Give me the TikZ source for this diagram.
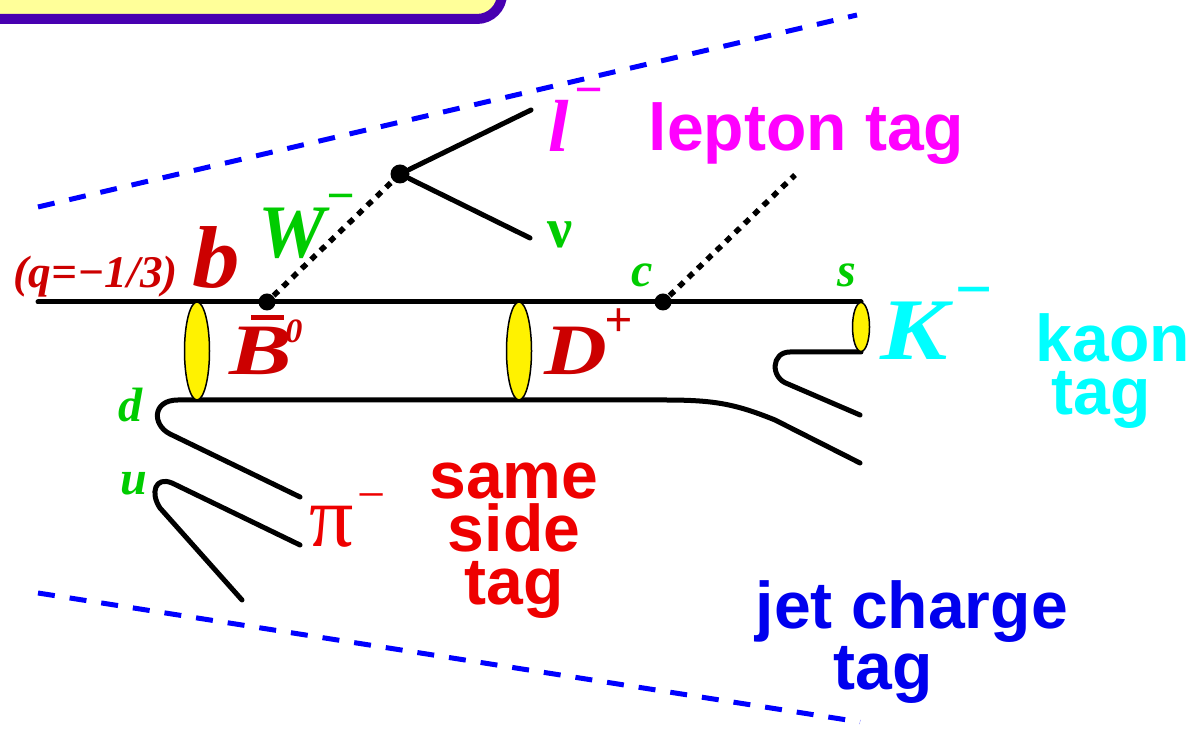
\documentclass[tikz,border=0pt]{standalone}
\usepackage{fontspec}
\setmainfont{Liberation Serif}
\setsansfont{Liberation Sans}
\usepackage{xcolor,graphicx}
\usetikzlibrary{shapes.geometric}

\definecolor{dkred}{RGB}{204,0,0}
\definecolor{brred}{RGB}{238,0,0}
\definecolor{qgreen}{RGB}{0,204,0}
\definecolor{lmag}{RGB}{255,0,255}
\definecolor{kcyan}{RGB}{0,255,255}
\definecolor{jblue}{RGB}{0,0,238}
\definecolor{dblue}{RGB}{0,0,255}
\definecolor{boxfill}{RGB}{255,255,153}
\definecolor{boxline}{RGB}{72,0,176}

\newcommand{\fsz}[2]{\fontsize{#1}{#2}\selectfont}
\newcommand{\sgn}[3]{\raisebox{#1}{\fsz{#2}{#2}#3}}
\newcommand{\wide}[2]{\scalebox{#1}[1]{#2}}

\begin{document}
\begin{tikzpicture}[x=0.1mm,y=-0.1mm,line join=round,
 qk/.style={line width=0.5mm,line cap=round},
 wb/.style={line width=0.55mm,dash pattern=on 0.65mm off 0.65mm},
 cone/.style={dblue,line width=0.5mm,dash pattern=on 1.7mm off 1.5mm},
 vtx/.style={circle,fill=black,inner sep=0pt,minimum size=1.7mm},
 blob/.style={ellipse,draw=black,line width=0.15mm,fill=yellow,inner sep=0pt,minimum width=2.5mm},
 lbl/.style={inner sep=0pt,anchor=base west,font=\bfseries\itshape},
 tg/.style={inner sep=0pt,anchor=north west,align=left,font=\sffamily\bfseries\fsz{18.8}{15.1}}]
\useasboundingbox (0,0) rectangle (1195,731);
% title box, cut by the frame
\draw[boxline,line width=1mm,fill=boxfill,rounded corners=2.5mm] (-60,-80) rectangle (502,19);
% jet cone
\coordinate (coneTL) at (38,207); \coordinate (coneTR) at (857,15);
\coordinate (coneBL) at (38,593); \coordinate (coneBR) at (860,722);
\draw[cone] (coneTL) -- (coneTR);
\draw[cone] (coneBL) -- (coneBR);
% quark lines
\coordinate (bIn) at (38,302); \coordinate (sTop) at (861,302);
\coordinate (sBot) at (861,352); \coordinate (sTail) at (860,415);
\coordinate (dEnd) at (300,497); \coordinate (jetEnd) at (860,463);
\coordinate (uEnd) at (300,545); \coordinate (uTail) at (242,600);
\coordinate (lEnd) at (531,110); \coordinate (nuEnd) at (530,238);
\coordinate (cEnd) at (795,175);
\draw[qk] (bIn) -- (sTop);
\draw[qk] (dEnd) -- (170,434) .. controls (152,425) and (152,400) .. (178,400) -- (663,400)
 .. controls (712,400) and (733,403) .. (775,420) -- (jetEnd);
\draw[qk] (uEnd) -- (172,483) .. controls (155,476) and (150,493) .. (160,508) -- (uTail);
\draw[qk] (sBot) -- (790,352) .. controls (771,352) and (770,378) .. (788,384) -- (sTail);
% mesons
\node[blob,minimum height=9.8mm] (mesB) at (197,351) {};
\node[blob,minimum height=9.8mm] (mesD) at (519,351) {};
\node[blob,minimum width=1.7mm,minimum height=4.9mm] (mesK) at (861,327) {};
% vertices
\node[vtx] (vB) at (267,302) {};
\node[vtx] (vC) at (663,302) {};
\node[vtx,minimum size=1.9mm] (vW) at (400,174) {};
\draw[wb] (vB) -- (vW);
\draw[wb] (vC) -- (cEnd);
\draw[qk] (vW) -- (lEnd);
\draw[qk] (vW) -- (nuEnd);
% particle labels
\node[lbl,dkred] (qlab) at (13,288) {\fsz{12.9}{15}(q=−1/3)};
\node[lbl,dkred] (blab) at (192,288) {\fsz{25}{30}\wide{1.08}{b}};
\node[lbl,qgreen] (Wlab) at (258,258) {\fsz{21.5}{26}W\sgn{4.5mm}{14.2}{−}};
\node[lbl,dkred] (Blab) at (229,375) {\fsz{20.6}{25}\rlap{\hspace{0.3em}\rule[0.76em]{0.45em}{0.07em}}\wide{1.3}{B}\kern-0.7mm\raisebox{3.2mm}{\fsz{9.7}{10}0}};
\node[lbl,dkred] (Dlab) at (544,375) {\fsz{20.6}{25}\wide{1.2}{D}\kern-0.3mm\sgn{3.8mm}{14}{+}};
\node[lbl,kcyan] (Klab) at (880,360) {\fsz{25}{30}\wide{1.15}{K}\kern0.5mm\sgn{4.85mm}{18.8}{−}};
\node[lbl,lmag] (llab) at (548,152) {\fsz{21}{25}l\kern0.4mm\sgn{4.5mm}{14.2}{−}};
\node[lbl,brred,font=\mdseries\upshape] (pilab) at (309,547) {\fsz{25}{30}π\kern0.3mm\sgn{3.5mm}{14.2}{−}};
\node[lbl,qgreen,font=\bfseries\upshape] (nulab) at (547,248) {\fsz{16}{18}ν};
\node[lbl,qgreen] (clab) at (631,287) {\fsz{13.7}{16}c};
\node[lbl,qgreen] (slab) at (837,287) {\fsz{13.7}{16}s};
\node[lbl,qgreen] (dlab) at (118,422) {\fsz{13.7}{16}d};
\node[lbl,qgreen] (ulab) at (120,495) {\fsz{13.7}{16}u};
% tagging methods
\node[tg,lmag] (lepTag) at (648,102) {lepton tag};
\node[tg,kcyan] (kaonTag) at (1035,313) {kaon\\\hspace*{1.6mm}tag};
\node[tg,brred,anchor=north,align=center] (ssTag) at (514,462) {same\\side\\tag};
\node[tg,jblue] (jetTag) at (755,580) {jet charge\\\hspace*{7.8mm}tag};
\end{tikzpicture}
\end{document}
